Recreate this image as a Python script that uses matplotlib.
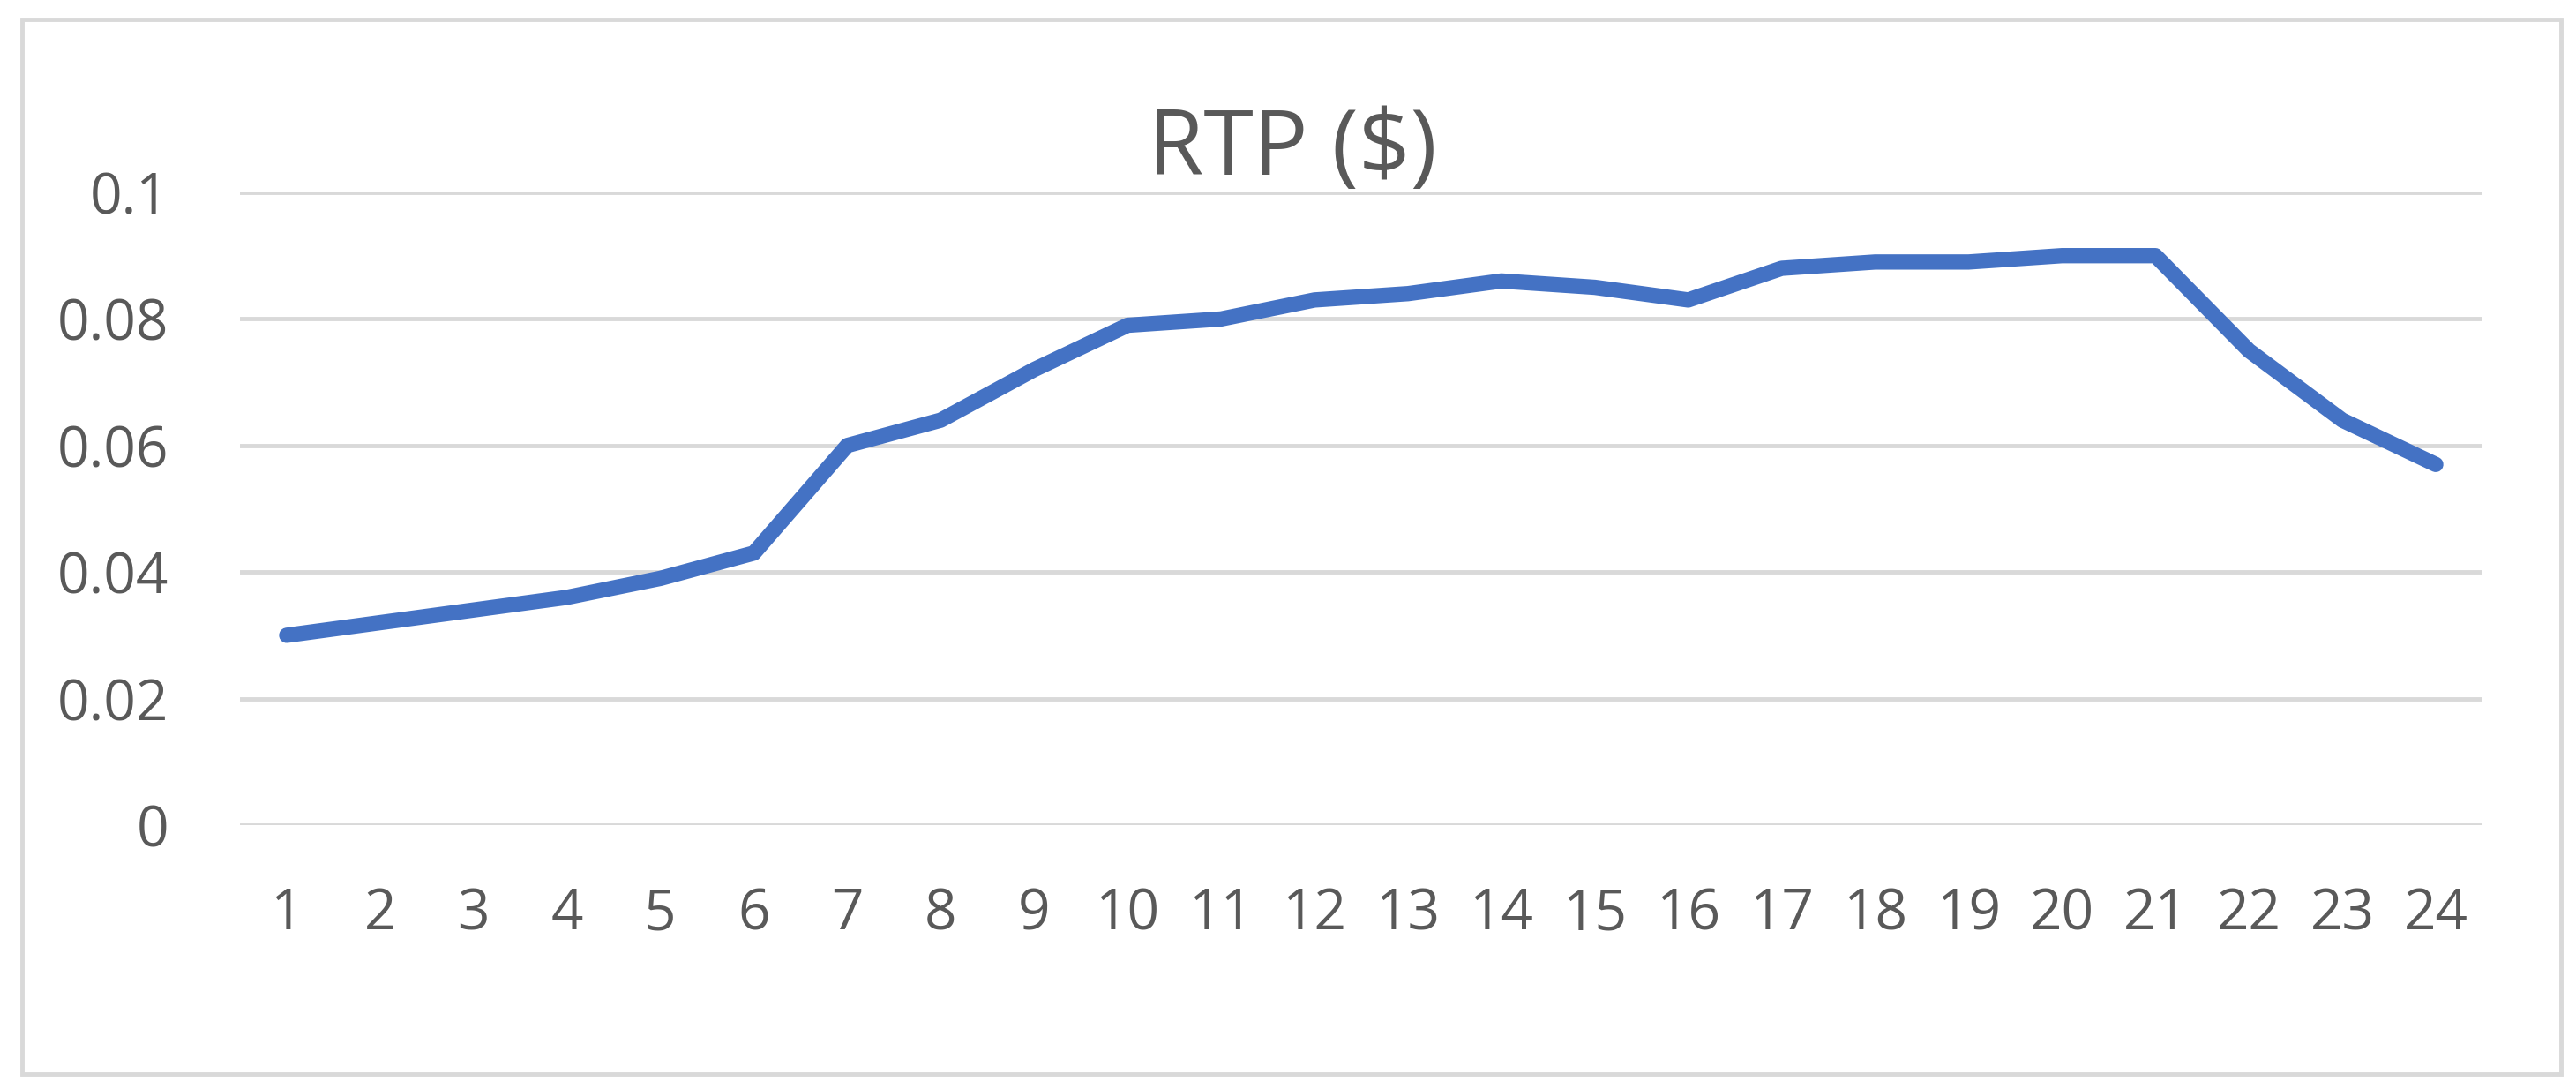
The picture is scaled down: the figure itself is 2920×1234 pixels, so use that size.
import matplotlib
matplotlib.use("Agg")
import matplotlib.pyplot as plt
from matplotlib.patches import Rectangle

# hours and the RTP value
hours = list(range(1, 25))
rtp = [0.030, 0.032, 0.034, 0.036, 0.039, 0.043, 0.060, 0.064,
       0.072, 0.079, 0.080, 0.083, 0.084, 0.086, 0.085, 0.083,
       0.088, 0.089, 0.089, 0.090, 0.090, 0.075, 0.064, 0.057]
y_ticks = [0, 0.02, 0.04, 0.06, 0.08, 0.1]
y_labels = ["0", "0.02", "0.04", "0.06", "0.08", "0.1"]
title = "RTP ($)"

TEXT = "#595959"
GRID = "#D9D9D9"
LINE = "#4472C4"

plt.rcParams['font.family'] = ['Open Sans', 'DejaVu Sans']

fig = plt.figure(figsize=(29.2, 12.34), dpi=100)

# outer chart border
fig.patches.append(Rectangle((25 / 2920, 1 - 1217 / 1234), 2878 / 2920, 1195 / 1234,
                             transform=fig.transFigure, fill=False,
                             edgecolor=GRID, linewidth=3.5))

ax = fig.add_axes([272 / 2920, 299 / 1234, 2542 / 2920, 717 / 1234])
ax.plot(hours, rtp, color=LINE, linewidth=12.5,
        solid_capstyle='round', solid_joinstyle='round',
        zorder=3, clip_on=False)

ax.set_xlim(0.5, 24.5)
ax.set_ylim(0, 0.1)
ax.set_yticks(y_ticks)
ax.set_yticklabels(y_labels)
ax.set_xticks(hours)
ax.set_xticklabels([str(h) for h in hours])

for s in ax.spines.values():
    s.set_visible(False)
ax.grid(axis='y', color=GRID, linewidth=3.5)
ax.set_axisbelow(True)
ax.tick_params(axis='both', length=0, labelsize=46, colors=TEXT)
ax.tick_params(axis='y', pad=58)
ax.tick_params(axis='x', pad=50)

fig.text(1465 / 2920, 1 - 198 / 1234, title, ha='center', va='baseline',
         fontsize=74, color=TEXT)

fig.savefig("out.png", dpi=100, facecolor="white")
